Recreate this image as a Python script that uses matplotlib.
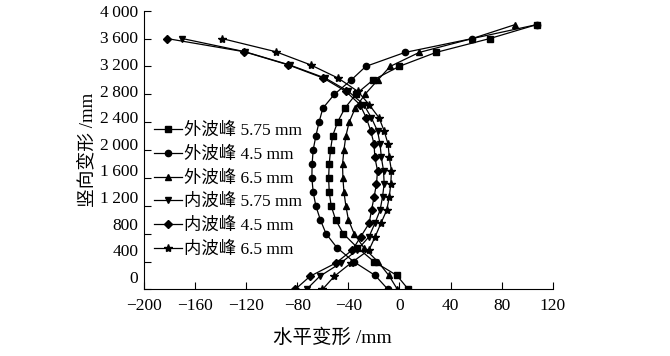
import matplotlib.pyplot as plt
import matplotlib.transforms as mtransforms

plt.rcParams['font.family'] = ['Liberation Serif', 'Noto Sans CJK SC']

# outer peak series (y every 200 mm)
outer_y = [0, 200, 400, 600, 800, 1000, 1200, 1400, 1600, 1800,
           2000, 2200, 2400, 2600, 2800, 3000, 3200, 3400, 3600, 3800]
outer_575 = [7, -2, -20, -33, -44, -50, -53.5, -55, -55.5, -55,
             -54, -52.4, -48.5, -42.8, -34.2, -21.1, -0.3, 28.4, 70.7, 107.4]
outer_45 = [-9, -19, -36, -49, -57.5, -62, -65.5, -67.6, -68.6, -68.4,
            -67.6, -65.5, -63, -60, -51, -38.1, -26.4, 4.1, 57, 107.5]
outer_65 = [-1.6, -8.3, -17, -28, -35.5, -40, -42, -43.5, -44.3, -44.6,
            -43.5, -42, -39.4, -34.7, -27, -17.2, -7.3, 15.3, 57, 90.5]

# inner peak series
inner_y = [0, 189, 379, 568, 758, 947, 1137, 1326, 1516, 1705,
           1895, 2084, 2274, 2463, 2653, 2842, 3032, 3221, 3411, 3600]
inner_575 = [-72.8, -62.4, -46, -32.9, -23.8, -19.3, -15.2, -13.3, -12, -12.5,
             -14.2, -15.2, -17.2, -22, -28, -40, -58, -86, -121, -170]
inner_45 = [-81.7, -70, -49.8, -36.8, -30.3, -23.8, -21.9, -19.9, -18, -17.2,
            -19.3, -19.9, -22.5, -26, -31, -42, -59.5, -86.9, -121.6, -182]
inner_65 = [-60.3, -51, -38, -23.8, -19, -14.6, -10, -8, -6.8, -6.3,
            -8, -8.9, -12, -16, -23.8, -32.6, -48, -69.4, -96.8, -139]

xticks = [-200, -160, -120, -80, -40, 0, 40, 80, 120]
yticks = [0, 400, 800, 1200, 1600, 2000, 2400, 2800, 3200, 3600, 4000]
ytick_labels = ['0', '400', '800', '1\u2009200', '1\u2009600', '2\u2009000',
                '2\u2009400', '2\u2009800', '3\u2009200', '3\u2009600', '4\u2009000']

fig = plt.figure(figsize=(6.7, 3.56), dpi=100)
ax = fig.add_axes([0.215, 0.187, 0.61, 0.783])

kw = dict(color='black', lw=0.9, mec='black', mfc='black')
ax.plot(outer_575, outer_y, marker='s', ms=4, label='外波峰 5.75 mm', **kw)
ax.plot(outer_45, outer_y, marker='o', ms=4.5, label='外波峰 4.5 mm', **kw)
ax.plot(outer_65, outer_y, marker='^', ms=5, label='外波峰 6.5 mm', **kw)
ax.plot(inner_575, inner_y, marker='v', ms=5, label='内波峰 5.75 mm', **kw)
ax.plot(inner_45, inner_y, marker='D', ms=4, label='内波峰 4.5 mm', **kw)
ax.plot(inner_65, inner_y, marker='*', ms=6, label='内波峰 6.5 mm', **kw)

ax.set_xlim(-200, 120)
ax.set_ylim(0, 4000)
ax.set_xticks(xticks)
ax.set_xticklabels(['\u2212' + str(-t) if t < 0 else str(t) for t in xticks])
ax.set_yticks(yticks)
ax.set_yticklabels(ytick_labels)
ax.tick_params(direction='in', length=5, width=0.8, labelsize=12.5)
ax.tick_params(axis='x', pad=6)
ax.tick_params(axis='y', pad=4)
for s in ['top', 'right']:
    ax.spines[s].set_visible(False)

# y labels in the original drift upward toward the bottom
for t, lab in zip(yticks, ax.get_yticklabels()):
    dy = 9 * (1 - t / 4000) / 72
    lab.set_transform(lab.get_transform() +
                      mtransforms.ScaledTranslation(0, dy, fig.dpi_scale_trans))

ax.set_xlabel('水平变形 /mm', fontsize=14, labelpad=4)
ax.xaxis.set_label_coords(0.46, -0.14)
ax.set_ylabel('竖向变形 /mm', fontsize=13.5)
ax.yaxis.set_label_coords(-0.117, 0.5)

ax.legend(loc='upper left', bbox_to_anchor=(0.0, 0.635), frameon=False,
          fontsize=12.5, handlelength=1.6, handletextpad=0.1,
          labelspacing=0.42, borderaxespad=0.2, handleheight=0.6)

fig.savefig('out.png', dpi=100)
